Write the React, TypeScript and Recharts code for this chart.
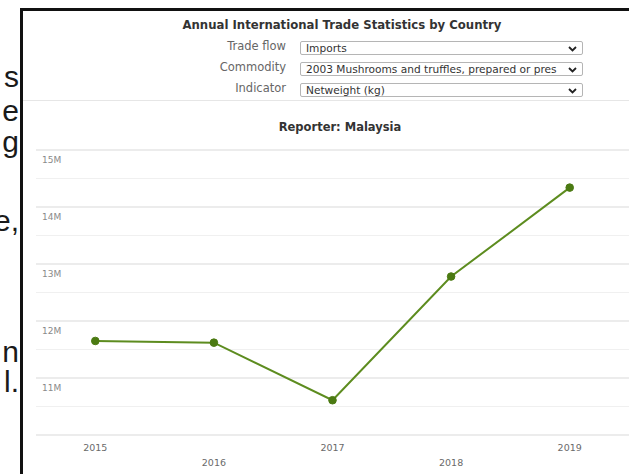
import React from "react";
import { LineChart, Line, XAxis, YAxis, ReferenceLine } from "recharts";

const years = [2015, 2016, 2017, 2018, 2019];
const netweightKg = [11650000, 11620000, 10610000, 12780000, 14340000];
const yTickValues = [11000000, 12000000, 13000000, 14000000, 15000000];
const majorGrid = [10000000, 11000000, 12000000, 13000000, 14000000, 15000000];
const minorGrid = [10500000, 11500000, 12500000, 13500000, 14500000];

const selectors = [
  { label: "Trade flow", value: "Imports" },
  { label: "Commodity", value: "2003 Mushrooms and truffles, prepared or pres" },
  { label: "Indicator", value: "Netweight (kg)" },
];

const slideFragments = [
  { text: "s", top: 60 },
  { text: "e", top: 94 },
  { text: "g", top: 125 },
  { text: "e,", top: 204 },
  { text: "n", top: 335 },
  { text: "l.", top: 365 },
];

const data = years.map((y, i) => ({ year: y, value: netweightKg[i] }));

const FONT = "'DejaVu Sans', Verdana, sans-serif";

const XTick = (props: any) => {
  const { x, y, payload } = props;
  const idx = years.indexOf(payload.value);
  return (
    <text
      x={x}
      y={y + (idx % 2 === 1 ? 28 : 13)}
      textAnchor="middle"
      dominantBaseline="middle"
      fontFamily={FONT}
      fontSize={9.5}
      fill="#6a6a6a"
    >
      {payload.value}
    </text>
  );
};

const YTick = (props: any) => {
  const { x, y, payload } = props;
  return (
    <text
      x={x + 6}
      y={y + 10}
      textAnchor="start"
      dominantBaseline="middle"
      fontFamily={FONT}
      fontSize={9}
      fill="#8a8a8a"
    >
      {payload.value / 1000000 + "M"}
    </text>
  );
};

const Chevron = () => (
  <svg width="9" height="6" viewBox="0 0 9 6" style={{ position: "absolute", right: 5, top: 4 }}>
    <path d="M1 1 L4.5 4.5 L8 1" stroke="#222" strokeWidth="1.8" fill="none" />
  </svg>
);

export default function App() {
  return (
    <div
      style={{
        position: "absolute",
        left: 0,
        top: 0,
        width: 629,
        height: 474,
        overflow: "hidden",
        background: "#fff",
      }}
    >
      {slideFragments.map((f) => (
        <div
          key={f.text + f.top}
          style={{
            position: "absolute",
            right: 610,
            top: f.top,
            fontFamily: "'Liberation Sans', Arial, sans-serif",
            fontSize: 30,
            lineHeight: "34px",
            color: "#1a1a1a",
            whiteSpace: "nowrap",
          }}
        >
          {f.text}
        </div>
      ))}
      <div
        style={{
          position: "absolute",
          left: 20,
          top: 8,
          width: 640,
          height: 500,
          borderLeft: "3px solid #111",
          borderTop: "3px solid #111",
        }}
      />
      <div
        style={{
          position: "absolute",
          left: 23,
          top: 100,
          width: 620,
          height: 1,
          background: "#e6e6e6",
        }}
      />
      <div
        style={{
          position: "absolute",
          left: 0,
          width: 684,
          top: 17,
          textAlign: "center",
          fontFamily: FONT,
          fontWeight: "bold",
          fontSize: 11.7,
          color: "#333",
          lineHeight: "16px",
          whiteSpace: "nowrap",
        }}
      >
        Annual International Trade Statistics by Country
      </div>
      {selectors.map((s, i) => (
        <React.Fragment key={s.label}>
          <div
            style={{
              position: "absolute",
              right: 629 - 286,
              top: 39 + i * 21,
              fontFamily: FONT,
              fontSize: 11.5,
              color: "#666",
              lineHeight: "14px",
              whiteSpace: "nowrap",
            }}
          >
            {s.label}
          </div>
          <div
            style={{
              position: "absolute",
              left: 300,
              top: 41 + i * 21,
              width: 281,
              height: 12,
              border: "1px solid #b5b5b5",
              borderRadius: 2,
              background: "#fff",
              overflow: "hidden",
            }}
          >
            <div
              style={{
                position: "absolute",
                left: 5,
                top: -1,
                fontFamily: FONT,
                fontSize: 10.6,
                color: "#333",
                lineHeight: "14px",
                whiteSpace: "nowrap",
                width: 262,
                overflow: "hidden",
              }}
            >
              {s.value}
            </div>
            <Chevron />
          </div>
        </React.Fragment>
      ))}
      <div
        style={{
          position: "absolute",
          left: 0,
          width: 680,
          top: 119,
          textAlign: "center",
          fontFamily: FONT,
          fontWeight: "bold",
          fontSize: 11.5,
          color: "#333",
          lineHeight: "16px",
          whiteSpace: "nowrap",
        }}
      >
        Reporter: Malaysia
      </div>
      <div style={{ position: "absolute", left: 0, top: 0 }}>
        <LineChart
          width={629}
          height={474}
          data={data}
          margin={{ top: 150, right: 0, bottom: 0, left: 0 }}
        >
          <XAxis
            dataKey="year"
            type="number"
            domain={[2014.5, 2019.5]}
            ticks={years}
            axisLine={false}
            tickLine={false}
            tickSize={0}
            tickMargin={0}
            height={39}
            tick={<XTick />}
            interval={0}
          />
          <YAxis
            type="number"
            domain={[10000000, 15000000]}
            ticks={yTickValues}
            axisLine={false}
            tickLine={false}
            tickSize={0}
            tickMargin={0}
            width={36}
            tick={<YTick />}
            interval={0}
          />
          {minorGrid.map((v) => (
            <ReferenceLine key={"mi" + v} y={v} stroke="#f0f0f0" strokeWidth={1} />
          ))}
          {majorGrid.map((v) => (
            <ReferenceLine key={"ma" + v} y={v} stroke="#d9d9d9" strokeWidth={1} />
          ))}
          <Line
            type="linear"
            dataKey="value"
            stroke="#5d8c1f"
            strokeWidth={2}
            dot={{ r: 3.8, fill: "#4b7a12", stroke: "#4b7a12", strokeWidth: 1 }}
            isAnimationActive={false}
          />
        </LineChart>
      </div>
    </div>
  );
}
